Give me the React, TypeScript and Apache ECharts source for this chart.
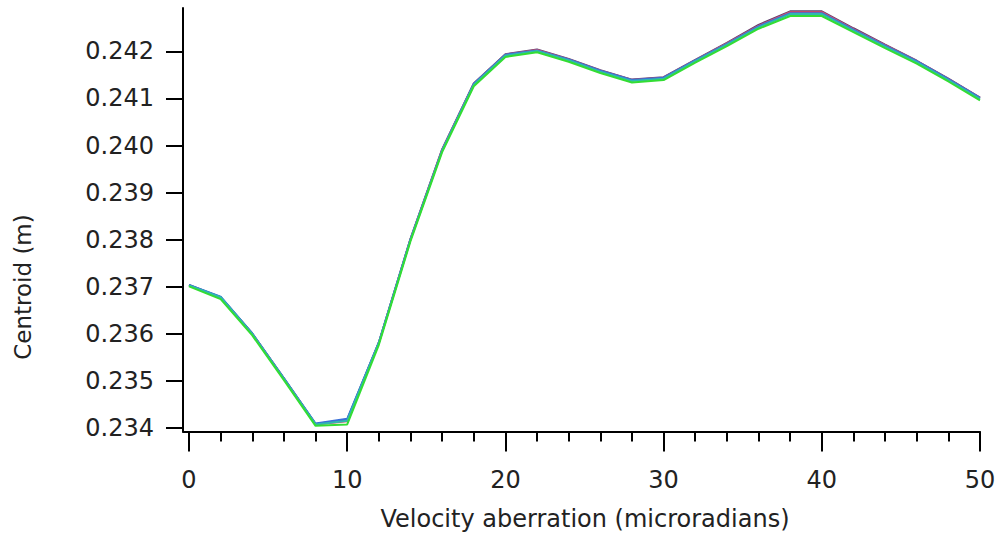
import React, { useEffect, useRef } from "react";
import * as echarts from "echarts";

const xValues = [0, 2, 4, 6, 8, 10, 12, 14, 16, 18, 20, 22, 24, 26, 28, 30, 32, 34, 36, 38, 40, 42, 44, 46, 48, 50];

const blackSeries = [0.23704, 0.23678, 0.23601, 0.23506, 0.23409, 0.23418, 0.23582, 0.23802, 0.23992, 0.24132, 0.24194, 0.24204, 0.24184, 0.2416, 0.2414, 0.24145, 0.24182, 0.24218, 0.24256, 0.24285, 0.24285, 0.24249, 0.24214, 0.2418, 0.24142, 0.24102];
const redSeries = [0.23703, 0.23677, 0.236, 0.23505, 0.23408, 0.23415, 0.23581, 0.23801, 0.23991, 0.24131, 0.24193, 0.24203, 0.24183, 0.24159, 0.24139, 0.24144, 0.24181, 0.24217, 0.24254, 0.24283, 0.24283, 0.24247, 0.24213, 0.24179, 0.24141, 0.24101];
const blueSeries = [0.23704, 0.23679, 0.23601, 0.23506, 0.2341, 0.2342, 0.23582, 0.23801, 0.2399, 0.24131, 0.24193, 0.24202, 0.24183, 0.24159, 0.24139, 0.24144, 0.24181, 0.24216, 0.24253, 0.24281, 0.24281, 0.24246, 0.24212, 0.24179, 0.24141, 0.24101];
const cyanSeries = [0.23703, 0.23678, 0.236, 0.23505, 0.23408, 0.23416, 0.23581, 0.238, 0.23989, 0.24129, 0.24191, 0.24201, 0.24181, 0.24157, 0.24137, 0.24142, 0.24179, 0.24214, 0.24251, 0.24279, 0.24279, 0.24244, 0.2421, 0.24177, 0.24139, 0.24099];
const greenSeries = [0.23701, 0.23674, 0.23597, 0.23502, 0.23405, 0.23408, 0.23577, 0.23797, 0.23986, 0.24126, 0.24188, 0.24198, 0.24178, 0.24154, 0.24134, 0.24139, 0.24176, 0.24211, 0.24248, 0.24275, 0.24275, 0.24241, 0.24207, 0.24174, 0.24136, 0.24096];

const xMajorTicks = [0, 10, 20, 30, 40, 50];
const xMinorTicks = [2, 4, 6, 8, 12, 14, 16, 18, 22, 24, 26, 28, 32, 34, 36, 38, 42, 44, 46, 48];
const yTicks = [0.234, 0.235, 0.236, 0.237, 0.238, 0.239, 0.24, 0.241, 0.242];

const xTitle = "Velocity aberration (microradians)";
const yTitle = "Centroid (m)";

const FONT = "DejaVu Sans";

export default function App() {
  const ref = useRef<HTMLDivElement>(null);
  useEffect(() => {
    if (!ref.current) return;
    const chart = echarts.init(ref.current, undefined, { renderer: "svg" });
    const mk = (name: string, vals: number[], color: string) => ({
      name,
      type: "line",
      xAxisIndex: 0,
      yAxisIndex: 0,
      data: xValues.map((x, i) => [x, vals[i]]),
      showSymbol: false,
      symbol: "none",
      lineStyle: { color, width: 2 },
      silent: true,
    });
    chart.setOption({
      animation: false,
      backgroundColor: "#ffffff",
      grid: { left: 183, right: 23, top: 8, bottom: 101.5 },
      xAxis: [
        {
          type: "value",
          min: -0.38,
          max: 50,
          splitLine: { show: false },
          axisLine: { show: true, onZero: false, lineStyle: { color: "#000", width: 2 } },
          axisTick: { show: true, customValues: xMajorTicks, length: 20, lineStyle: { color: "#000", width: 2 } },
          axisLabel: {
            customValues: xMajorTicks,
            margin: 36,
            color: "#222",
            fontFamily: FONT,
            fontSize: 24,
          },
        },
        {
          type: "value",
          min: -0.38,
          max: 50,
          position: "bottom",
          splitLine: { show: false },
          axisLine: { show: false },
          axisTick: { show: true, customValues: xMinorTicks, length: 10, lineStyle: { color: "#000", width: 2 } },
          axisLabel: { show: false },
        },
      ],
      yAxis: {
        type: "value",
        min: 0.23393,
        max: 0.24292,
        splitLine: { show: false },
        axisLine: { show: true, onZero: false, lineStyle: { color: "#000", width: 2 } },
        axisTick: { show: true, customValues: yTicks, length: 17, lineStyle: { color: "#000", width: 2 } },
        axisLabel: {
          customValues: yTicks,
          margin: 29,
          color: "#222",
          fontFamily: FONT,
          fontSize: 24,
          formatter: (v: number) => v.toFixed(3),
        },
      },
      graphic: [
        {
          type: "text",
          x: 585,
          y: 519,
          style: {
            text: xTitle,
            fill: "#222",
            font: `24px "${FONT}"`,
            textAlign: "center",
            textVerticalAlign: "middle",
          },
        },
        {
          type: "text",
          x: 23,
          y: 287,
          rotation: Math.PI / 2,
          style: {
            text: yTitle,
            fill: "#222",
            font: `23px "${FONT}"`,
            textAlign: "center",
            textVerticalAlign: "middle",
          },
        },
      ],
      series: [
        mk("black", blackSeries, "#5a3f6e"),
        mk("red", redSeries, "#e0506a"),
        mk("blue", blueSeries, "#3a6fd8"),
        mk("cyan", cyanSeries, "#2fb8b0"),
        mk("green", greenSeries, "#33dd33"),
      ],
    });
    return () => chart.dispose();
  }, []);
  return <div ref={ref} style={{ position: "fixed", left: 0, top: 0, width: 1003, height: 533 }} />;
}
